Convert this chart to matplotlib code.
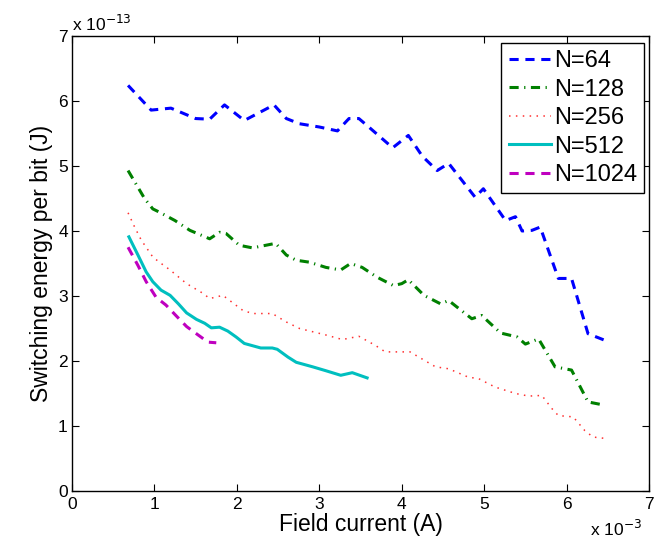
"""
Switching energy per bit versus field current for several array sizes.
"""

import matplotlib
matplotlib.use("Agg")
import matplotlib.pyplot as plt

plt.rcParams["font.family"] = ["Liberation Sans", "DejaVu Sans"]

# Field current in units of 1e-3 A, energy in units of 1e-13 J
x_64 = [0.68, 0.96, 1.20, 1.50, 1.67, 1.85, 2.09, 2.45, 2.60, 2.76, 3.00, 3.22, 3.36,
        3.48, 3.60, 3.89, 4.08, 4.25, 4.43, 4.57, 4.89, 4.99, 5.26, 5.38, 5.46, 5.58,
        5.68, 5.90, 6.06, 6.26, 6.46]
e_64 = [6.24, 5.86, 5.89, 5.73, 5.72, 5.94, 5.70, 5.94, 5.73, 5.65, 5.60, 5.54, 5.73,
        5.73, 5.60, 5.28, 5.47, 5.15, 4.93, 5.04, 4.52, 4.65, 4.16, 4.22, 4.00, 4.01,
        4.06, 3.27, 3.27, 2.42, 2.32]

x_128 = [0.68, 0.88, 0.98, 1.06, 1.25, 1.43, 1.67, 1.79, 1.87, 2.03, 2.19, 2.47, 2.60,
         2.72, 2.88, 3.08, 3.26, 3.38, 3.52, 3.70, 3.90, 4.00, 4.08, 4.27, 4.47, 4.57,
         4.85, 4.97, 5.20, 5.40, 5.50, 5.66, 5.86, 6.06, 6.26, 6.46]
e_128 = [4.93, 4.50, 4.34, 4.29, 4.16, 4.01, 3.88, 3.98, 3.96, 3.78, 3.74, 3.81, 3.63,
         3.55, 3.52, 3.44, 3.40, 3.50, 3.44, 3.29, 3.16, 3.19, 3.25, 3.01, 2.88, 2.93,
         2.65, 2.70, 2.43, 2.37, 2.26, 2.34, 1.91, 1.86, 1.37, 1.32]

x_256 = [0.68, 0.76, 0.84, 0.98, 1.06, 1.19, 1.39, 1.59, 1.67, 1.83, 2.07, 2.19, 2.43,
         2.60, 2.76, 3.08, 3.28, 3.48, 3.68, 3.80, 4.00, 4.10, 4.41, 4.57, 4.81, 4.93,
         5.13, 5.38, 5.54, 5.70, 5.82, 5.90, 6.08, 6.22, 6.32, 6.46]
e_256 = [4.28, 4.06, 3.86, 3.60, 3.52, 3.40, 3.19, 3.04, 2.96, 3.01, 2.78, 2.73, 2.73,
         2.60, 2.50, 2.40, 2.33, 2.38, 2.24, 2.14, 2.14, 2.14, 1.91, 1.88, 1.75, 1.73,
         1.60, 1.50, 1.46, 1.47, 1.27, 1.16, 1.14, 0.93, 0.83, 0.81]

x_512 = [0.69, 0.80, 0.90, 0.98, 1.08, 1.19, 1.29, 1.39, 1.51, 1.61, 1.69, 1.79, 1.89,
         1.99, 2.09, 2.29, 2.43, 2.49, 2.62, 2.72, 2.92, 3.08, 3.26, 3.40, 3.58]
e_512 = [3.91, 3.63, 3.37, 3.22, 3.09, 3.01, 2.88, 2.74, 2.64, 2.58, 2.51, 2.52, 2.46,
         2.37, 2.27, 2.20, 2.20, 2.18, 2.06, 1.98, 1.91, 1.85, 1.78, 1.82, 1.74]

x_1024 = [0.68, 0.80, 0.90, 1.02, 1.14, 1.26, 1.39, 1.53, 1.65, 1.75]
e_1024 = [3.75, 3.47, 3.22, 2.98, 2.86, 2.70, 2.53, 2.40, 2.29, 2.28]

fig = plt.figure(figsize=(6.54, 5.43), dpi=100)
ax = fig.add_axes([0.1101, 0.0958, 0.8823, 0.8379])

ax.plot(x_64, e_64, color="#0000ff", lw=2.2, dashes=(3, 2.2), label="N=64")
ax.plot(x_128, e_128, color="#008000", lw=2.2, dashes=(3, 1.8, 0.4, 1.8), label="N=128")
ax.plot(x_256, e_256, color="#ff3030", lw=1.1, dashes=(1, 3.5), label="N=256")
ax.plot(x_512, e_512, color="#00bfbf", lw=2.2, label="N=512")
ax.plot(x_1024, e_1024, color="#bf00bf", lw=2.2, dashes=(3, 2.2), label="N=1024")

ax.set_xlim(0, 7)
ax.set_ylim(0, 7)
ax.set_xticks(range(8))
ax.set_yticks(range(8))
ax.tick_params(direction="in", length=5, width=0.8, labelsize=12.5, top=True, right=True)
ax.tick_params(axis="x", pad=4)
ax.tick_params(axis="y", pad=3)
for side in ax.spines.values():
    side.set_linewidth(1.0)

ax.set_xlabel("Field current (A)", fontsize=16.5, labelpad=1)
ax.set_ylabel("Switching energy per bit (J)", fontsize=16.5, labelpad=4)

# scale factors shown MATLAB-style
ax.text(0.0, 1.005, r"x 10$^{-13}$", transform=ax.transAxes, fontsize=12.5,
        ha="left", va="bottom")
ax.text(0.988, -0.062, r"x 10$^{-3}$", transform=ax.transAxes, fontsize=12.5,
        ha="right", va="top")

leg = ax.legend(loc="upper right", bbox_to_anchor=(0.992, 0.985), fontsize=17,
                handlelength=1.8, handletextpad=0.1, labelspacing=0.27,
                borderpad=0.32, borderaxespad=0.0, fancybox=False, framealpha=1)
leg.get_frame().set_edgecolor("black")
leg.get_frame().set_linewidth(1.0)

fig.savefig("out.png", dpi=100, facecolor="white")
